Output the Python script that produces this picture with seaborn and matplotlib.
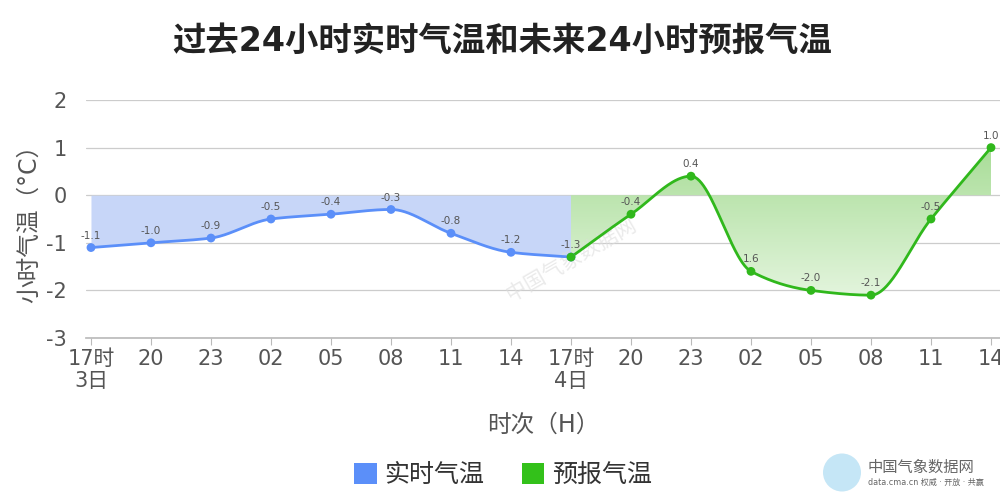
import numpy as np
import pandas as pd
import matplotlib
matplotlib.use("Agg")
import matplotlib.pyplot as plt
from matplotlib.patches import Patch, Ellipse
from matplotlib.colors import LinearSegmentedColormap
import seaborn as sns

# ---------------- data ----------------
tick_labels = ["17时\n3日", "20", "23", "02", "05", "08", "11", "14", "17时\n4日",
               "20", "23", "02", "05", "08", "11", "14"]
actual_values = [-1.1, -1.0, -0.9, -0.5, -0.4, -0.3, -0.8, -1.2, -1.3]
actual_labels = ["-1.1", "-1.0", "-0.9", "-0.5", "-0.4", "-0.3", "-0.8", "-1.2", "-1.3"]
forecast_values = [-1.3, -0.4, 0.4, -1.6, -2.0, -2.1, -0.5, 1.0]
forecast_labels = ["-1.3", "-0.4", "0.4", "1.6", "-2.0", "-2.1", "-0.5", "1.0"]
series_names = ["实时气温", "预报气温"]
title = "过去24小时实时气温和未来24小时预报气温"
ylabel = "小时气温（°C）"
xlabel = "时次（H）"

BLUE = "#5b8ff9"
BLUE_FILL = "#c7d6f8"
GREEN = "#30b81c"
GREY_TXT = "#555555"

sns.set_theme(style="white")
plt.rcParams['font.family'] = ['DejaVu Sans', 'Noto Sans CJK SC']
plt.rcParams['axes.unicode_minus'] = False


def pchip(x, y, xs):
    x = np.asarray(x, float); y = np.asarray(y, float)
    h = np.diff(x); d = np.diff(y) / h
    n = len(x); m = np.zeros(n)
    for k in range(1, n - 1):
        if d[k - 1] * d[k] > 0:
            w1 = 2 * h[k] + h[k - 1]; w2 = h[k] + 2 * h[k - 1]
            m[k] = (w1 + w2) / (w1 / d[k - 1] + w2 / d[k])
    m[0] = d[0]; m[-1] = d[-1]
    out = np.empty_like(xs)
    idx = np.clip(np.searchsorted(x, xs) - 1, 0, n - 2)
    for i, xv in enumerate(xs):
        k = idx[i]; t = (xv - x[k]) / h[k]
        h00 = 2 * t**3 - 3 * t**2 + 1; h10 = t**3 - 2 * t**2 + t
        h01 = -2 * t**3 + 3 * t**2; h11 = t**3 - t**2
        out[i] = h00 * y[k] + h10 * h[k] * m[k] + h01 * y[k + 1] + h11 * h[k] * m[k + 1]
    return out


xa = np.arange(len(actual_values))
xf = np.arange(len(actual_values) - 1, len(actual_values) - 1 + len(forecast_values))
xsa = np.linspace(xa[0], xa[-1], 400)
xsf = np.linspace(xf[0], xf[-1], 400)
ysa = pchip(xa, actual_values, xsa)
ysf = pchip(xf, forecast_values, xsf)

XLIM = (-0.083, 15.15)
fig = plt.figure(figsize=(10, 5), dpi=100)
ax = fig.add_axes([0.086, 0.324, 0.914, 0.476])

# fills
ax.fill_between(xsa, ysa, 0, color=BLUE_FILL, lw=0, zorder=1)
poly = ax.fill_between(xsf, ysf, 0, color="none", lw=0, zorder=1)
grad = np.linspace(0, 1, 256).reshape(-1, 1)
cmap = LinearSegmentedColormap.from_list("g", ["#a9dd98", "#e4f5de"])
im = ax.imshow(grad, cmap=cmap, aspect="auto", extent=[xf[0], xf[-1], -2.15, 1.0],
               origin="upper", zorder=1)
im.set_clip_path(poly.get_paths()[0], transform=ax.transData)
ax.set_xlim(*XLIM)
ax.set_ylim(-3, 2)

# lines
sns.lineplot(x=xsa, y=ysa, ax=ax, color=BLUE, lw=2, zorder=3)
sns.lineplot(x=xsf, y=ysf, ax=ax, color=GREEN, lw=2, zorder=3)
sns.scatterplot(x=xa, y=actual_values, ax=ax, color=BLUE, s=40, edgecolor="none", zorder=4)
sns.scatterplot(x=xf, y=forecast_values, ax=ax, color=GREEN, s=40, edgecolor="none", zorder=5)

for x, v, lab in zip(xa, actual_values, actual_labels):
    ax.annotate(lab, (x, v), xytext=(0, 5), textcoords="offset points", ha="center",
                va="bottom", fontsize=7.5, color=GREY_TXT, zorder=6)
for x, v, lab in zip(xf[1:], forecast_values[1:], forecast_labels[1:]):
    ax.annotate(lab, (x, v), xytext=(0, 5), textcoords="offset points", ha="center",
                va="bottom", fontsize=7.5, color=GREY_TXT, zorder=6, annotation_clip=False)

# grid & axes
ax.set_yticks(range(-3, 3))
ax.yaxis.grid(True, color="#cccccc", lw=0.9, zorder=0)
ax.xaxis.grid(False)
for s in ["top", "right", "left"]:
    ax.spines[s].set_visible(False)
ax.spines["bottom"].set_color("#bbbbbb")
ax.set_xticks(range(len(tick_labels)))
ax.set_xticklabels(tick_labels, fontsize=15, color=GREY_TXT, linespacing=1.1)
ax.tick_params(axis="x", length=5, color="#bbbbbb", width=0.8, pad=3, bottom=True)
ax.tick_params(axis="y", length=0, labelsize=15, labelcolor=GREY_TXT, pad=14)
ax.set_xlabel(xlabel, fontsize=17, color=GREY_TXT, labelpad=16)
ax.set_ylabel(ylabel, fontsize=17, color=GREY_TXT)
ax.yaxis.set_label_coords(-0.049, 0.505)

# watermark
ax.text(8.0, -1.35, "中国气象数据网", rotation=30, fontsize=15, color="#dddddd",
        alpha=0.6, ha="center", va="center", zorder=2)

fig.text(0.502, 0.918, title, ha="center", va="center", fontsize=24, fontweight="bold",
         color="#222222")

handles = [Patch(facecolor=BLUE, edgecolor="none"), Patch(facecolor="#33c11a", edgecolor="none")]
fig.legend(handles, series_names, loc="center", bbox_to_anchor=(0.503, 0.05), ncol=2,
           frameon=False, fontsize=18, handlelength=0.9, handleheight=0.9,
           handletextpad=0.3, columnspacing=1.5, labelcolor="#333333")

# logo
fig.patches.append(Ellipse((0.842, 0.055), 0.038, 0.076, transform=fig.transFigure,
                           facecolor="#c5e6f6", edgecolor="none"))
fig.text(0.868, 0.066, "中国气象数据网", fontsize=11, color="#666666", va="center")
fig.text(0.868, 0.035, "data.cma.cn 权威 · 开放 · 共赢", fontsize=5.8, color="#666666", va="center")

fig.savefig("out.png", dpi=100)
